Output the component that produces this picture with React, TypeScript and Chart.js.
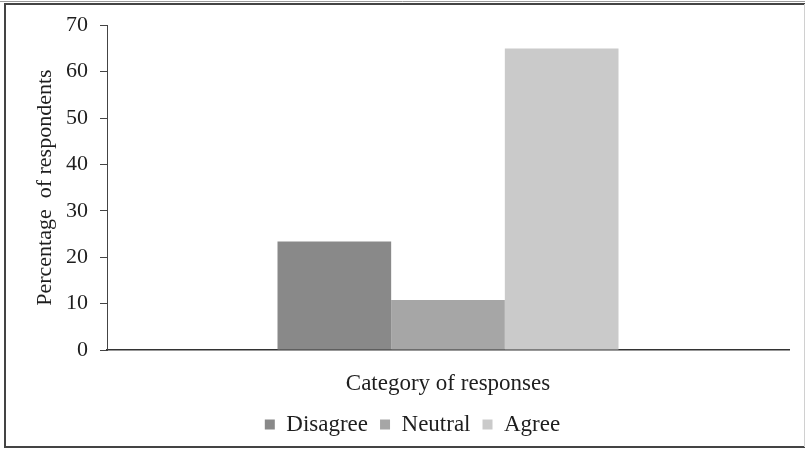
import React, { useEffect, useRef } from "react";
import { Chart, registerables } from "chart.js";

Chart.register(...registerables);

const categories = ["Category of responses"];
const seriesNames = ["Disagree", "Neutral", "Agree"];
const disagreeValues = [23.4];
const neutralValues = [10.8];
const agreeValues = [65.0];
const seriesColors = ["#898989", "#a6a6a6", "#cacaca"];
const yTicks = [0, 10, 20, 30, 40, 50, 60, 70];

const FONT = "'Liberation Serif', 'Times New Roman', serif";
const PLOT_BOTTOM = 350;
const BOTTOM_PAD = 3;

const framePlugin = {
  id: "frame",
  beforeDraw(chart: any) {
    const ctx = chart.ctx;
    ctx.save();
    ctx.fillStyle = "#ffffff";
    ctx.fillRect(0, 0, chart.width, chart.height);
    ctx.strokeStyle = "#9a9a9a";
    ctx.lineWidth = 1;
    ctx.beginPath();
    ctx.moveTo(0, 1.5);
    ctx.lineTo(chart.width, 1.5);
    ctx.stroke();
    ctx.strokeStyle = "#444444";
    ctx.lineWidth = 2;
    ctx.beginPath();
    ctx.moveTo(5, 4);
    ctx.lineTo(chart.width, 4);
    ctx.moveTo(5, 3);
    ctx.lineTo(5, 448);
    ctx.moveTo(5, 447);
    ctx.lineTo(chart.width, 447);
    ctx.stroke();
    ctx.strokeStyle = "#d0d0d0";
    ctx.lineWidth = 1;
    ctx.beginPath();
    ctx.moveTo(chart.width - 0.5, 4);
    ctx.lineTo(chart.width - 0.5, 447);
    ctx.stroke();
    ctx.restore();
  },
};

const legendShiftPlugin = {
  id: "legendShift",
  afterLayout(chart: any) {
    const lg = chart.legend;
    if (lg) {
      lg.left += 14;
      lg.right += 14;
    }
  },
};

export default function App() {
  const ref = useRef<HTMLCanvasElement | null>(null);

  useEffect(() => {
    if (!ref.current) return;
    const values = [disagreeValues, neutralValues, agreeValues];
    const chart = new Chart(ref.current, {
      type: "bar",
      data: {
        labels: categories,
        datasets: seriesNames.map((name, i) => ({
          label: name,
          data: values[i],
          backgroundColor: seriesColors[i],
          borderWidth: 0,
          categoryPercentage: 0.5,
          barPercentage: 1.0,
        })),
      },
      options: {
        animation: false,
        responsive: true,
        maintainAspectRatio: false,
        layout: { padding: { left: 8, right: 16, top: 25, bottom: BOTTOM_PAD } },
        plugins: {
          legend: {
            position: "bottom",
            labels: {
              boxWidth: 10,
              boxHeight: 10,
              padding: 12,
              color: "#1e1e1e",
              font: { family: FONT, size: 23 },
            },
          },
          tooltip: { enabled: false },
        },
        scales: {
          x: {
            grid: { display: false },
            border: { display: true, color: "#333333", width: 1.5 },
            ticks: { display: false },
            title: {
              display: true,
              text: "Category of responses",
              color: "#1e1e1e",
              font: { family: FONT, size: 23 },
              padding: { top: 0, bottom: 3 },
            },
            afterFit(scale: any) {
              const lgH = scale.chart.legend ? scale.chart.legend.height : 48;
              scale.height = scale.chart.height - BOTTOM_PAD - lgH - PLOT_BOTTOM;
            },
          },
          y: {
            min: 0,
            max: 70,
            afterBuildTicks(scale: any) {
              scale.ticks = yTicks.map((v) => ({ value: v }));
            },
            grid: {
              display: true,
              drawOnChartArea: false,
              drawTicks: true,
              tickLength: 7,
              color: "#444444",
              tickColor: "#444444",
            },
            border: { display: true, color: "#444444", width: 1 },
            ticks: {
              color: "#1e1e1e",
              padding: 12,
              font: { family: FONT, size: 22 },
            },
            title: {
              display: true,
              text: "Percentage  of respondents",
              color: "#1e1e1e",
              font: { family: FONT, size: 22 },
              padding: { top: 24, bottom: 0 },
            },
            afterFit(scale: any) {
              scale.width = 99;
            },
          },
        },
      },
      plugins: [framePlugin, legendShiftPlugin],
    });
    return () => chart.destroy();
  }, []);

  return (
    <div style={{ position: "fixed", left: 0, top: 0, width: 805, height: 449, background: "#fff" }}>
      <canvas ref={ref} />
    </div>
  );
}
